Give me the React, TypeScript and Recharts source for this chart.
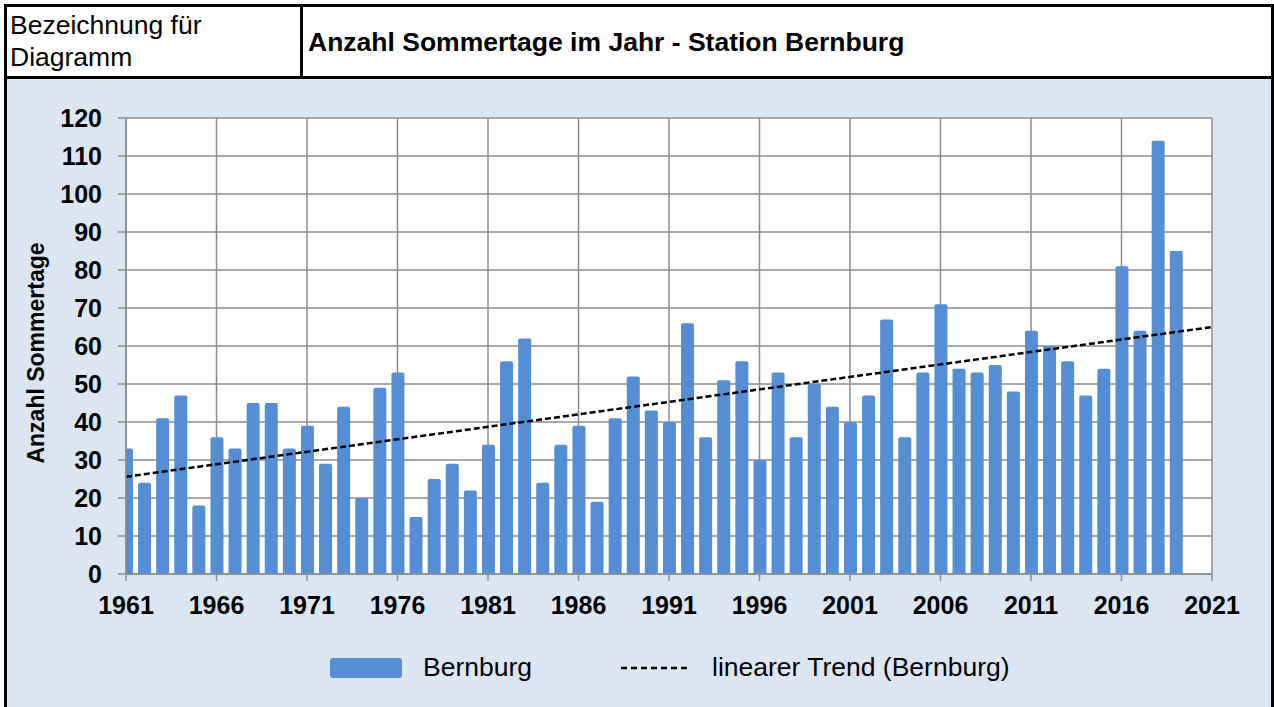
import React from "react";
import {
  ComposedChart,
  Bar,
  Line,
  XAxis,
  YAxis,
  CartesianGrid,
} from "recharts";

// Anzahl Sommertage pro Jahr, Station Bernburg
const years = [
  1961, 1962, 1963, 1964, 1965, 1966, 1967, 1968, 1969, 1970,
  1971, 1972, 1973, 1974, 1975, 1976, 1977, 1978, 1979, 1980,
  1981, 1982, 1983, 1984, 1985, 1986, 1987, 1988, 1989, 1990,
  1991, 1992, 1993, 1994, 1995, 1996, 1997, 1998, 1999, 2000,
  2001, 2002, 2003, 2004, 2005, 2006, 2007, 2008, 2009, 2010,
  2011, 2012, 2013, 2014, 2015, 2016, 2017, 2018, 2019,
];

const sommertage = [
  33, 24, 41, 47, 18, 36, 33, 45, 45, 33,
  39, 29, 44, 20, 49, 53, 15, 25, 29, 22,
  34, 56, 62, 24, 34, 39, 19, 41, 52, 43,
  40, 66, 36, 51, 56, 30, 53, 36, 50, 44,
  40, 47, 67, 36, 53, 71, 54, 53, 55, 48,
  64, 60, 56, 47, 54, 81, 64, 114, 85,
];

// linearer Trend: Endpunkte
const trendYears = [1961, 2021];
const trendValues = [25.6, 65.0];

const xTicks = [1961, 1966, 1971, 1976, 1981, 1986, 1991, 1996, 2001, 2006, 2011, 2016, 2021];
const yTicks = [0, 10, 20, 30, 40, 50, 60, 70, 80, 90, 100, 110, 120];

const FONT = '"Liberation Sans", Arial, sans-serif';
const BAR_COLOR = "#558ed5";
const GRID = "#8c8c8c";

type Row = { year: number; value?: number; trend?: number };

const rows: Row[] = years.map((y, i) => {
  const t = trendYears.indexOf(y);
  return { year: y, value: sommertage[i], trend: t >= 0 ? trendValues[t] : undefined };
});
trendYears.forEach((y, i) => {
  if (!years.includes(y)) rows.push({ year: y, trend: trendValues[i] });
});

export default function App() {
  return (
    <div
      style={{
        position: "absolute",
        top: 0,
        left: 0,
        width: 1274,
        height: 707,
        background: "#fff",
        fontFamily: FONT,
        overflow: "hidden",
      }}
    >
      {/* frame */}
      <div
        style={{
          position: "absolute",
          left: 4,
          top: 4,
          width: 1264,
          height: 710,
          borderLeft: "3px solid #000",
          borderTop: "3px solid #000",
          borderRight: "3px solid #000",
          background: "#dce6f2",
        }}
      />
      {/* header */}
      <div
        style={{
          position: "absolute",
          left: 7,
          top: 7,
          width: 1264,
          height: 69,
          background: "#fff",
          borderBottom: "3px solid #000",
        }}
      />
      <div
        style={{
          position: "absolute",
          left: 300,
          top: 7,
          width: 3,
          height: 69,
          background: "#000",
        }}
      />
      <div
        style={{
          position: "absolute",
          left: 10,
          top: 9,
          fontSize: 26.5,
          lineHeight: "32px",
          color: "#000",
        }}
      >
        Bezeichnung für
        <br />
        Diagramm
      </div>
      <div
        style={{
          position: "absolute",
          left: 308,
          top: 26,
          fontSize: 26.5,
          fontWeight: 700,
          lineHeight: "32px",
          color: "#000",
        }}
      >
        Anzahl Sommertage im Jahr - Station Bernburg
      </div>

      {/* chart */}
      <div style={{ position: "absolute", left: 0, top: 0 }}>
        <ComposedChart
          width={1274}
          height={707}
          data={rows}
          margin={{ top: 118, right: 62, bottom: 83, left: 26 }}
        >
          <CartesianGrid stroke={GRID} strokeWidth={1.5} fill="#fff" />
          <XAxis
            dataKey="year"
            type="number"
            domain={[1961, 2021]}
            ticks={xTicks}
            allowDataOverflow
            height={50}
            stroke={GRID}
            strokeWidth={1.5}
            tickSize={7}
            tickMargin={15}
            tick={{ fontSize: 25, fontWeight: 700, fill: "#000", fontFamily: FONT }}
            interval={0}
          />
          <YAxis
            type="number"
            domain={[0, 120]}
            ticks={yTicks}
            width={100}
            stroke={GRID}
            strokeWidth={1.5}
            tickSize={8}
            tickMargin={16}
            tick={{ fontSize: 25, fontWeight: 700, fill: "#000", fontFamily: FONT }}
            interval={0}
          />
          <Bar
            dataKey="value"
            fill={BAR_COLOR}
            barSize={13}
            radius={[2, 2, 0, 0]}
            isAnimationActive={false}
          />
          <Line
            dataKey="trend"
            stroke="#000"
            strokeWidth={2.5}
            strokeDasharray="6 3"
            dot={false}
            activeDot={false}
            connectNulls
            isAnimationActive={false}
          />
        </ComposedChart>
      </div>

      {/* y axis title */}
      <div
        style={{
          position: "absolute",
          left: 36,
          top: 353,
          transform: "translate(-50%, -50%) rotate(-90deg)",
          fontSize: 23,
          fontWeight: 700,
          whiteSpace: "nowrap",
          color: "#000",
        }}
      >
        Anzahl Sommertage
      </div>

      {/* legend */}
      <div
        style={{
          position: "absolute",
          left: 330,
          top: 658,
          width: 72,
          height: 20,
          background: BAR_COLOR,
          borderRadius: 3,
        }}
      />
      <div
        style={{
          position: "absolute",
          left: 423,
          top: 651,
          fontSize: 26.5,
          lineHeight: "32px",
          color: "#000",
        }}
      >
        Bernburg
      </div>
      <svg style={{ position: "absolute", left: 620, top: 660 }} width={72} height={16}>
        <line x1={1} y1={8} x2={70} y2={8} stroke="#000" strokeWidth={2.5} strokeDasharray="6 4" />
      </svg>
      <div
        style={{
          position: "absolute",
          left: 712,
          top: 651,
          fontSize: 26.5,
          lineHeight: "32px",
          color: "#000",
        }}
      >
        linearer Trend (Bernburg)
      </div>
    </div>
  );
}
